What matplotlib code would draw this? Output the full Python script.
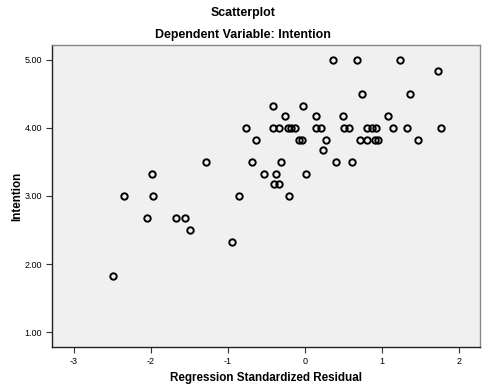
import matplotlib
matplotlib.use("Agg")
import matplotlib.pyplot as plt

plt.rcParams['font.family'] = ['Liberation Sans', 'DejaVu Sans']

# Regression standardized residual (x) and Intention (y)
residual = [0.37, 0.67, 1.23,
            1.725,
            0.74, 1.36,
            -0.41, -0.03,
            -0.26, 0.14, 0.49, 1.08,
            -0.765, -0.42, -0.33, -0.22, -0.175, -0.13, 0.14, 0.21, 0.51, 0.575,
            0.81, 0.87, 0.925, 1.145, 1.33, 1.76,
            -0.635, -0.08, -0.035, 0.28, 0.71, 0.81, 0.91, 0.95, 1.47,
            0.24,
            -1.28, -0.68, -0.315, 0.40, 0.605,
            -1.98, -0.53, -0.37, 0.02,
            -0.40, -0.33,
            -2.35, -1.97, -0.85, -0.21,
            -2.05, -1.67, -1.56,
            -1.49,
            -0.94,
            -2.49]
intention = [5.00, 5.00, 5.00,
             4.83,
             4.50, 4.50,
             4.33, 4.33,
             4.17, 4.17, 4.17, 4.17,
             4.00, 4.00, 4.00, 4.00, 4.00, 4.00, 4.00, 4.00, 4.00, 4.00,
             4.00, 4.00, 4.00, 4.00, 4.00, 4.00,
             3.83, 3.83, 3.83, 3.83, 3.83, 3.83, 3.83, 3.83, 3.83,
             3.67,
             3.50, 3.50, 3.50, 3.50, 3.50,
             3.33, 3.33, 3.33, 3.33,
             3.17, 3.17,
             3.00, 3.00, 3.00, 3.00,
             2.67, 2.67, 2.67,
             2.50,
             2.33,
             1.83]

xticks = [-3, -2, -1, 0, 1, 2]
xtick_labels = ["-3", "-2", "-1", "0", "1", "2"]
yticks = [1, 2, 3, 4, 5]
ytick_labels = ["1.00", "2.00", "3.00", "4.00", "5.00"]

fig = plt.figure(figsize=(4.93, 3.91), dpi=100)
ax = fig.add_axes([0.1055, 0.1125, 0.868, 0.7725])
ax.set_facecolor('#F0F0F0')

ax.plot(residual, intention, linestyle='none', marker='o', markersize=4.6,
        markerfacecolor='none', markeredgecolor='black', markeredgewidth=1.4)

ax.set_xlim(-3.28, 2.27)
ax.set_ylim(0.78, 5.22)
ax.set_xticks(xticks)
ax.set_xticklabels(xtick_labels)
ax.set_yticks(yticks)
ax.set_yticklabels(ytick_labels)
ax.tick_params(axis='both', direction='out', length=4, width=0.8,
               labelsize=6.5, color='#333333', pad=3)

for side in ['left', 'bottom']:
    ax.spines[side].set_color('#222222')
    ax.spines[side].set_linewidth(1.0)
for side in ['top', 'right']:
    ax.spines[side].set_color('#888888')
    ax.spines[side].set_linewidth(1.0)

ax.set_xlabel('Regression Standardized Residual', fontsize=8.4, fontweight='bold')
ax.set_ylabel('Intention', fontsize=8.4, fontweight='bold')
ax.xaxis.set_label_coords(0.5, -0.103)
ax.yaxis.set_label_coords(-0.082, 0.5)
ax.xaxis.label.set_va('center')
ax.yaxis.label.set_va('center')

fig.text(243/493, 1 - 13/391, 'Scatterplot', ha='center', va='center',
         fontsize=8.9, fontweight='bold')
fig.text(243/493, 1 - 35/391, 'Dependent Variable: Intention', ha='center', va='center',
         fontsize=8.9, fontweight='bold')

fig.savefig('out.png', dpi=100)
